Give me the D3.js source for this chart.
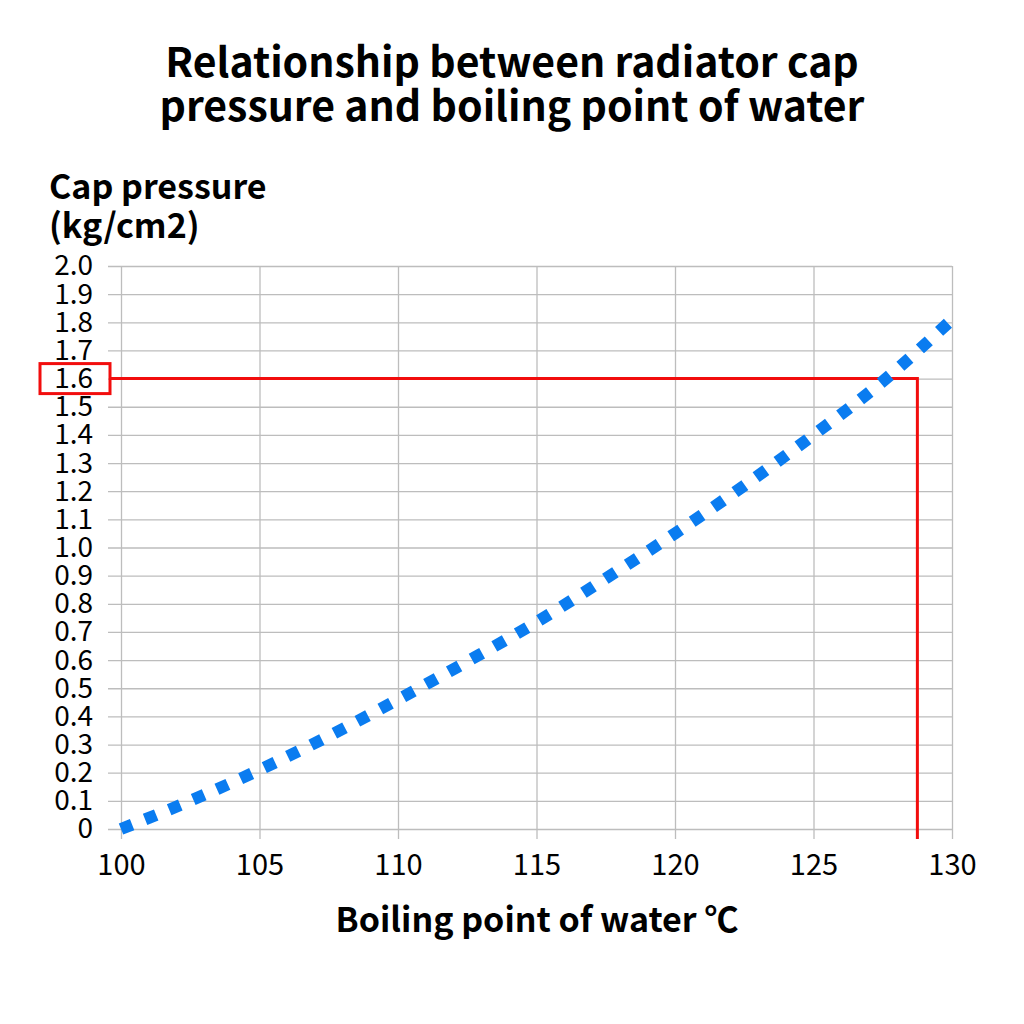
<!DOCTYPE html>
<html>
<head>
<meta charset="utf-8">
<script src="https://cdn.jsdelivr.net/npm/d3@7"></script>
<style>
  body { margin: 0; background: #fff; }
  text { font-family: "Noto Sans CJK JP", "Noto Sans", sans-serif; }
</style>
</head>
<body>
<div id="vis"></div>
<script>
const FRAME_WIDTH = 1024;
const FRAME_HEIGHT = 1024;
const MARGINS = {left: 121, right: 72, top: 266, bottom: 195};
const VIS_WIDTH = FRAME_WIDTH - MARGINS.left - MARGINS.right;
const VIS_HEIGHT = FRAME_HEIGHT - MARGINS.top - MARGINS.bottom;

// boiling point (°C) vs cap pressure (kg/cm2)
const TEMPS = [100, 102.5, 105, 107.5, 110, 112.5, 115, 117.5, 120, 122.5, 125, 127.5, 130];
const PRESSURES = [0, 0.10, 0.21, 0.33, 0.46, 0.595, 0.735, 0.89, 1.05, 1.22, 1.40, 1.59, 1.81];
const X_TICKS = [100, 105, 110, 115, 120, 125, 130];
const Y_TICKS = [0, 0.1, 0.2, 0.3, 0.4, 0.5, 0.6, 0.7, 0.8, 0.9, 1.0, 1.1, 1.2, 1.3, 1.4, 1.5, 1.6, 1.7, 1.8, 1.9, 2.0];
const MARK_PRESSURE = 1.6;
const MARK_TEMP = 128.75;

const X_SCALE = d3.scaleLinear().domain([100, 130]).range([0, VIS_WIDTH]);
const Y_SCALE = d3.scaleLinear().domain([0, 2.0]).range([VIS_HEIGHT, 0]);

const FRAME = d3.select("#vis")
  .append("svg")
    .attr("width", FRAME_WIDTH)
    .attr("height", FRAME_HEIGHT);

// title
FRAME.append("text")
  .attr("x", 512)
  .attr("text-anchor", "middle")
  .attr("font-weight", "bold")
  .attr("font-size", 41)
  .selectAll("tspan")
  .data(["Relationship between radiator cap", "pressure and boiling point of water"])
  .enter()
  .append("tspan")
    .attr("x", 512)
    .attr("y", (d, i) => 77 + i * 44)
    .text(d => d);

// y axis title
FRAME.append("text")
  .attr("font-weight", "bold")
  .attr("font-size", 34)
  .selectAll("tspan")
  .data(["Cap pressure", "(kg/cm2)"])
  .enter()
  .append("tspan")
    .attr("x", 49)
    .attr("y", (d, i) => 199 + i * 39)
    .text(d => d);

const G = FRAME.append("g")
  .attr("transform", "translate(" + MARGINS.left + "," + MARGINS.top + ")");

// gridlines via axes
G.append("g")
  .attr("class", "grid")
  .attr("transform", "translate(0," + VIS_HEIGHT + ")")
  .call(d3.axisBottom(X_SCALE).tickValues(X_TICKS).tickSize(VIS_HEIGHT + 10).tickFormat(d3.format("d")))
  .call(g => g.select(".domain").remove())
  .call(g => g.selectAll(".tick line").attr("transform", "translate(0," + (-VIS_HEIGHT) + ")"))
  .call(g => g.selectAll(".tick text")
    .attr("y", 0).attr("dy", 46)
    .attr("font-size", 29)
    .attr("font-family", "Noto Sans CJK JP")
    .attr("fill", "#000"));

G.append("g")
  .attr("class", "grid")
  .call(d3.axisLeft(Y_SCALE).tickValues(Y_TICKS).tickSize(13).tickPadding(15)
    .tickFormat(d => d === 0 ? "0" : d3.format(".1f")(d)))
  .call(g => g.select(".domain").remove())
  .call(g => g.selectAll(".tick line").attr("x2", VIS_WIDTH).attr("x1", -13))
  .call(g => g.selectAll(".tick text")
    .attr("x", -28)
    .attr("font-size", 28)
    .attr("font-family", "Noto Sans CJK JP")
    .attr("fill", "#000"));

G.selectAll(".grid .tick line")
  .attr("stroke", "#bdbdbd")
  .attr("stroke-width", 1.3);

// red guide for 1.6
const BOX = {x: 40 - MARGINS.left, w: 70, h: 30};
G.append("rect")
  .attr("x", BOX.x)
  .attr("y", Y_SCALE(MARK_PRESSURE) - BOX.h / 2)
  .attr("width", BOX.w)
  .attr("height", BOX.h)
  .attr("fill", "none")
  .attr("stroke", "#f20d0d")
  .attr("stroke-width", 3);

G.append("path")
  .attr("d", d3.line()([
    [BOX.x + BOX.w, Y_SCALE(MARK_PRESSURE)],
    [X_SCALE(MARK_TEMP), Y_SCALE(MARK_PRESSURE)],
    [X_SCALE(MARK_TEMP), VIS_HEIGHT + 10]
  ]))
  .attr("fill", "none")
  .attr("stroke", "#f20d0d")
  .attr("stroke-width", 3);

// curve
const LINE = d3.line()
  .x((d, i) => X_SCALE(TEMPS[i]))
  .y(d => Y_SCALE(d))
  .curve(d3.curveMonotoneX);

G.append("path")
  .datum(PRESSURES)
  .attr("d", LINE)
  .attr("fill", "none")
  .attr("stroke", "#0a7cf0")
  .attr("stroke-width", 12)
  .attr("stroke-dasharray", "12,14");

// x axis title
FRAME.append("text")
  .attr("x", 537)
  .attr("y", 932)
  .attr("text-anchor", "middle")
  .attr("font-weight", "bold")
  .attr("font-size", 34)
  .text("Boiling point of water ℃");
</script>
</body>
</html>
